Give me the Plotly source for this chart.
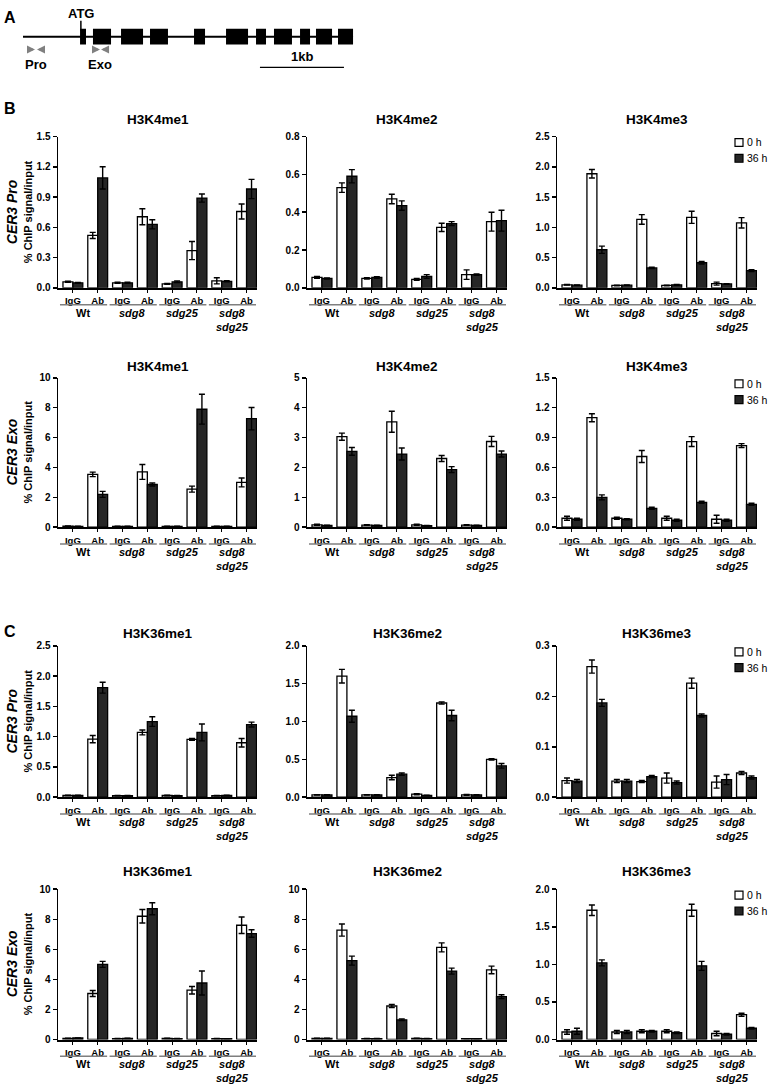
import plotly.graph_objects as go
from plotly.subplots import make_subplots

# ---------------- DATA ----------------
categories = ["IgG", "Ab", "IgG", "Ab", "IgG", "Ab", "IgG", "Ab"]
genotypes = ["Wt", "<i>sdg8</i>", "<i>sdg25</i>", "<i>sdg8</i><br><i>sdg25</i>"]
series_names = ["0 h", "36 h"]

# order: Wt IgG, Wt Ab, sdg8 IgG, sdg8 Ab, sdg25 IgG, sdg25 Ab, sdg8sdg25 IgG, sdg8sdg25 Ab
k4me1_pro_0h = [0.06, 0.52, 0.05, 0.705, 0.04, 0.37, 0.07, 0.757]
k4me1_pro_0h_err = [0.005, 0.03, 0.005, 0.08, 0.005, 0.09, 0.03, 0.075]
k4me1_pro_36h = [0.05, 1.09, 0.05, 0.63, 0.06, 0.89, 0.065, 0.98]
k4me1_pro_36h_err = [0.003, 0.11, 0.005, 0.045, 0.008, 0.04, 0.005, 0.095]

k4me2_pro_0h = [0.055, 0.53, 0.05, 0.47, 0.045, 0.32, 0.07, 0.35]
k4me2_pro_0h_err = [0.005, 0.025, 0.004, 0.025, 0.005, 0.022, 0.025, 0.05]
k4me2_pro_36h = [0.05, 0.59, 0.055, 0.435, 0.06, 0.34, 0.07, 0.355]
k4me2_pro_36h_err = [0.003, 0.035, 0.004, 0.025, 0.01, 0.01, 0.004, 0.055]

k4me3_pro_0h = [0.05, 1.885, 0.04, 1.13, 0.04, 1.165, 0.07, 1.075]
k4me3_pro_0h_err = [0.005, 0.07, 0.005, 0.08, 0.005, 0.1, 0.025, 0.085]
k4me3_pro_36h = [0.045, 0.63, 0.045, 0.33, 0.05, 0.415, 0.065, 0.285]
k4me3_pro_36h_err = [0.004, 0.06, 0.004, 0.01, 0.008, 0.02, 0.005, 0.015]

k4me1_exo_0h = [0.07, 3.54, 0.05, 3.7, 0.05, 2.55, 0.05, 3.0]
k4me1_exo_0h_err = [0.01, 0.15, 0.01, 0.5, 0.01, 0.2, 0.01, 0.3]
k4me1_exo_36h = [0.06, 2.2, 0.05, 2.86, 0.05, 7.9, 0.05, 7.27]
k4me1_exo_36h_err = [0.01, 0.2, 0.01, 0.1, 0.01, 1.0, 0.01, 0.75]

k4me2_exo_0h = [0.08, 3.03, 0.07, 3.53, 0.08, 2.3, 0.07, 2.87]
k4me2_exo_0h_err = [0.02, 0.12, 0.01, 0.35, 0.02, 0.1, 0.01, 0.17]
k4me2_exo_36h = [0.06, 2.54, 0.06, 2.45, 0.05, 1.93, 0.06, 2.45]
k4me2_exo_36h_err = [0.01, 0.13, 0.01, 0.2, 0.01, 0.1, 0.01, 0.1]

k4me3_exo_0h = [0.09, 1.10, 0.09, 0.71, 0.09, 0.86, 0.08, 0.82]
k4me3_exo_0h_err = [0.02, 0.04, 0.01, 0.06, 0.02, 0.05, 0.04, 0.02]
k4me3_exo_36h = [0.08, 0.30, 0.08, 0.19, 0.07, 0.25, 0.07, 0.23]
k4me3_exo_36h_err = [0.01, 0.025, 0.005, 0.01, 0.01, 0.01, 0.01, 0.01]

k36me1_pro_0h = [0.03, 0.96, 0.025, 1.07, 0.03, 0.955, 0.025, 0.9]
k36me1_pro_0h_err = [0.003, 0.06, 0.003, 0.04, 0.005, 0.015, 0.003, 0.07]
k36me1_pro_36h = [0.03, 1.81, 0.025, 1.25, 0.025, 1.07, 0.03, 1.2]
k36me1_pro_36h_err = [0.003, 0.09, 0.003, 0.08, 0.003, 0.14, 0.003, 0.04]

k36me2_pro_0h = [0.03, 1.6, 0.03, 0.26, 0.04, 1.245, 0.03, 0.5]
k36me2_pro_0h_err = [0.003, 0.09, 0.003, 0.03, 0.008, 0.015, 0.005, 0.01]
k36me2_pro_36h = [0.03, 1.07, 0.03, 0.305, 0.025, 1.08, 0.03, 0.415]
k36me2_pro_36h_err = [0.003, 0.08, 0.003, 0.015, 0.003, 0.07, 0.003, 0.03]

k36me3_pro_0h = [0.033, 0.259, 0.032, 0.031, 0.038, 0.226, 0.030, 0.048]
k36me3_pro_0h_err = [0.005, 0.013, 0.003, 0.002, 0.01, 0.01, 0.012, 0.003]
k36me3_pro_36h = [0.032, 0.187, 0.032, 0.041, 0.029, 0.162, 0.035, 0.039]
k36me3_pro_36h_err = [0.003, 0.007, 0.003, 0.002, 0.003, 0.003, 0.01, 0.003]

k36me1_exo_0h = [0.08, 3.06, 0.06, 8.2, 0.08, 3.28, 0.06, 7.6]
k36me1_exo_0h_err = [0.01, 0.2, 0.01, 0.45, 0.01, 0.25, 0.01, 0.55]
k36me1_exo_36h = [0.1, 5.0, 0.07, 8.7, 0.06, 3.76, 0.05, 7.05]
k36me1_exo_36h_err = [0.01, 0.2, 0.01, 0.4, 0.01, 0.8, 0.01, 0.25]

k36me2_exo_0h = [0.07, 7.28, 0.06, 2.23, 0.08, 6.13, 0.05, 4.63]
k36me2_exo_0h_err = [0.01, 0.4, 0.01, 0.1, 0.01, 0.3, 0.01, 0.25]
k36me2_exo_36h = [0.08, 5.25, 0.06, 1.31, 0.06, 4.55, 0.05, 2.85]
k36me2_exo_36h_err = [0.01, 0.3, 0.01, 0.05, 0.01, 0.2, 0.01, 0.13]

k36me3_exo_0h = [0.10, 1.72, 0.10, 0.11, 0.11, 1.72, 0.08, 0.33]
k36me3_exo_0h_err = [0.03, 0.07, 0.02, 0.02, 0.02, 0.08, 0.03, 0.02]
k36me3_exo_36h = [0.11, 1.02, 0.10, 0.11, 0.09, 0.98, 0.07, 0.15]
k36me3_exo_36h_err = [0.04, 0.04, 0.02, 0.01, 0.01, 0.06, 0.01, 0.01]

# panel titles / y-axis settings
titles = [["H3K4me1", "H3K4me2", "H3K4me3"],
          ["H3K4me1", "H3K4me2", "H3K4me3"],
          ["H3K36me1", "H3K36me2", "H3K36me3"],
          ["H3K36me1", "H3K36me2", "H3K36me3"]]
row_labels = ["CER3 Pro", "CER3 Exo", "CER3 Pro", "CER3 Exo"]
y_max = [[1.5, 0.8, 2.5], [10, 5, 1.5], [2.5, 2.0, 0.3], [10, 10, 2.0]]
y_step = [[0.3, 0.2, 0.5], [2, 1, 0.3], [0.5, 0.5, 0.1], [2, 2, 0.5]]
y_fmt = [[".1f", ".1f", ".1f"], ["d", "d", ".1f"], [".1f", ".1f", ".1f"], ["d", "d", ".1f"]]

panels = [
    [(k4me1_pro_0h, k4me1_pro_0h_err, k4me1_pro_36h, k4me1_pro_36h_err),
     (k4me2_pro_0h, k4me2_pro_0h_err, k4me2_pro_36h, k4me2_pro_36h_err),
     (k4me3_pro_0h, k4me3_pro_0h_err, k4me3_pro_36h, k4me3_pro_36h_err)],
    [(k4me1_exo_0h, k4me1_exo_0h_err, k4me1_exo_36h, k4me1_exo_36h_err),
     (k4me2_exo_0h, k4me2_exo_0h_err, k4me2_exo_36h, k4me2_exo_36h_err),
     (k4me3_exo_0h, k4me3_exo_0h_err, k4me3_exo_36h, k4me3_exo_36h_err)],
    [(k36me1_pro_0h, k36me1_pro_0h_err, k36me1_pro_36h, k36me1_pro_36h_err),
     (k36me2_pro_0h, k36me2_pro_0h_err, k36me2_pro_36h, k36me2_pro_36h_err),
     (k36me3_pro_0h, k36me3_pro_0h_err, k36me3_pro_36h, k36me3_pro_36h_err)],
    [(k36me1_exo_0h, k36me1_exo_0h_err, k36me1_exo_36h, k36me1_exo_36h_err),
     (k36me2_exo_0h, k36me2_exo_0h_err, k36me2_exo_36h, k36me2_exo_36h_err),
     (k36me3_exo_0h, k36me3_exo_0h_err, k36me3_exo_36h, k36me3_exo_36h_err)],
]

# gene model (bp, relative to start of drawn region)
exon_starts = [679, 833, 1167, 1512, 2036, 2417, 2774, 2988, 3298, 3488, 3750]
exon_ends = [750, 1048, 1429, 1726, 2167, 2679, 2893, 3202, 3417, 3679, 3929]
gene_start, gene_end = 0, 3929
atg_pos = 679
pro_primers = [(60, 143), (238, 167)]
exo_primers = [(845, 917), (1000, 929)]
scale_bar = (2821, 3821)

# ---------------- LAYOUT HELPERS ----------------
W, H = 770, 1092
FONT = "Liberation Sans, Arial, sans-serif"
col_px = [(58, 257), (307, 507), (557, 757)]
row_px = [(132, 285), (376, 527), (647, 800), (893, 1045)]
title_px = [115, 365, 634, 875]


def fx(px):
    return px / W


def fy(px):
    return 1 - px / H


fig = make_subplots(rows=4, cols=3)
fills = ["white", "#262626"]
xpos = list(range(len(categories)))

for r in range(4):
    for c in range(3):
        v0, e0, v1, e1 = panels[r][c]
        for s, (vals, errs) in enumerate([(v0, e0), (v1, e1)]):
            fig.add_trace(go.Bar(
                x=xpos, y=vals, name=series_names[s], showlegend=False,
                marker=dict(color=fills[s], line=dict(color="black", width=1.3)),
                error_y=dict(type="data", array=errs, visible=True, color="black",
                             thickness=1.4, width=3),
                offsetgroup=str(s)), row=r + 1, col=c + 1)
        fig.update_xaxes(domain=[fx(col_px[c][0]), fx(col_px[c][1])],
                         range=[-0.6, 7.42], tickvals=xpos, ticktext=categories,
                         showline=True, linecolor="black", linewidth=2,
                         ticks="outside", ticklen=3, tickcolor="black", tickwidth=1,
                         showgrid=False, zeroline=False, fixedrange=True,
                         tickfont=dict(family=FONT, size=9.5, color="black", weight="bold"),
                         row=r + 1, col=c + 1)
        fig.update_yaxes(domain=[fy(row_px[r][1]), fy(row_px[r][0])],
                         range=[0, y_max[r][c]], dtick=y_step[r][c], tick0=0,
                         tickformat=y_fmt[r][c],
                         showline=True, linecolor="black", linewidth=1.5,
                         ticks="outside", ticklen=4, tickcolor="black", tickwidth=1.5,
                         showgrid=False, zeroline=False, fixedrange=True,
                         tickfont=dict(family=FONT, size=10, color="black", weight="bold"),
                         row=r + 1, col=c + 1)

annotations = []
shapes = []

# panel titles, group labels, underlines
for r in range(4):
    for c in range(3):
        x0, x1 = col_px[c]
        annotations.append(dict(text="<b>%s</b>" % titles[r][c], x=fx((x0 + x1) / 2), y=fy(title_px[r]),
                                xref="paper", yref="paper", xanchor="center", yanchor="middle",
                                showarrow=False, font=dict(family=FONT, size=13.5, color="black")))
        axn = "" if (r * 3 + c) == 0 else str(r * 3 + c + 1)
        ybase = row_px[r][1]
        for g, gname in enumerate(genotypes):
            shapes.append(dict(type="line", xref="x" + axn, yref="paper",
                               x0=2 * g - 0.52, x1=2 * g + 1.38,
                               y0=fy(ybase + 17), y1=fy(ybase + 17),
                               line=dict(color="#7f7f7f", width=1.5)))
            annotations.append(dict(text="<b>%s</b>" % gname, x=2 * g + 0.42, y=fy(ybase + 17),
                                    xref="x" + axn, yref="paper", xanchor="center", yanchor="top",
                                    showarrow=False, font=dict(family=FONT, size=11, color="black")))
    # legend on right-most column
    top = row_px[r][0]
    for s, off in enumerate([2, 18]):
        shapes.append(dict(type="rect", xref="paper", yref="paper",
                           x0=fx(735), x1=fx(743), y0=fy(top + off), y1=fy(top + off + 8),
                           fillcolor=fills[s], line=dict(color="black", width=1.2)))
        annotations.append(dict(text=series_names[s], x=fx(745), y=fy(top + off + 4),
                                xref="paper", yref="paper", xanchor="left", yanchor="middle",
                                showarrow=False, font=dict(family=FONT, size=10.5, color="black")))
    # row labels (first column)
    yc = fy((row_px[r][0] + row_px[r][1]) / 2)
    annotations.append(dict(text="<b><i>%s</i></b>" % row_labels[r], x=fx(12), y=yc,
                            xref="paper", yref="paper", xanchor="center", yanchor="middle",
                            textangle=-90, showarrow=False,
                            font=dict(family=FONT, size=14, color="black")))
    annotations.append(dict(text="<b>% ChIP signal/input</b>", x=fx(28), y=yc,
                            xref="paper", yref="paper", xanchor="center", yanchor="middle",
                            textangle=-90, showarrow=False,
                            font=dict(family=FONT, size=11, color="black")))

# panel letters
for letter, ypx in [("A", 12), ("B", 104), ("C", 632)]:
    annotations.append(dict(text="<b>%s</b>" % letter, x=fx(2), y=fy(ypx), xref="paper", yref="paper",
                            xanchor="left", yanchor="middle", showarrow=False,
                            font=dict(family=FONT, size=16, color="black")))

# ---------------- GENE DIAGRAM (panel A) ----------------
px_per_bp = 0.084
gx0 = 23
fig.add_trace(go.Scatter(x=[gene_start, gene_end], y=[31, 31], mode="lines",
                         line=dict(color="black", width=2), xaxis="x13", yaxis="y13",
                         showlegend=False, hoverinfo="skip"))
fig.update_layout(
    xaxis13=dict(domain=[0, 1], range=[-gx0 / px_per_bp, (W - gx0) / px_per_bp], visible=False,
                 anchor="y13", fixedrange=True),
    yaxis13=dict(domain=[fy(75), 1], range=[75, 0], visible=False, anchor="x13", fixedrange=True),
)
for s0, s1 in zip(exon_starts, exon_ends):
    shapes.append(dict(type="rect", xref="x13", yref="y13", x0=s0, x1=s1, y0=23, y1=39,
                       fillcolor="black", line=dict(width=0)))
shapes.append(dict(type="line", xref="x13", yref="y13", x0=atg_pos + 10, x1=atg_pos + 10, y0=15, y1=25,
                   line=dict(color="black", width=1.5)))
annotations.append(dict(text="<b>ATG</b>", x=atg_pos + 10, y=8, xref="x13", yref="y13", showarrow=False,
                        xanchor="center", yanchor="middle",
                        font=dict(family=FONT, size=13, color="black")))
shapes.append(dict(type="line", xref="x13", yref="y13", x0=scale_bar[0], x1=scale_bar[1], y0=62, y1=62,
                   line=dict(color="black", width=1.3)))
annotations.append(dict(text="<b>1kb</b>", x=(scale_bar[0] + scale_bar[1]) / 2, y=51, xref="x13", yref="y13",
                        xanchor="center", yanchor="middle",
                        showarrow=False, font=dict(family=FONT, size=13, color="black")))
for primers, label in [(pro_primers, "Pro"), (exo_primers, "Exo")]:
    for tail, tip in primers:
        annotations.append(dict(text="", x=tip, y=44, ax=tail, ay=44, xref="x13", yref="y13",
                                axref="x13", ayref="y13", showarrow=True, arrowhead=2, arrowsize=0.8,
                                arrowwidth=2, arrowcolor="#808080"))
    cx = (primers[0][0] + primers[1][0]) / 2
    annotations.append(dict(text="<b>%s</b>" % label, x=cx, y=59, xref="x13", yref="y13", showarrow=False,
                            xanchor="center", yanchor="middle",
                            font=dict(family=FONT, size=13, color="black")))

fig.update_layout(
    width=W, height=H, autosize=False,
    margin=dict(l=0, r=0, t=0, b=0),
    paper_bgcolor="white", plot_bgcolor="white",
    barmode="group", bargap=0.2, bargroupgap=0,
    annotations=annotations, shapes=shapes,
    showlegend=False,
    font=dict(family=FONT, color="black"),
)

fig.write_html("out.html",
               config={"displayModeBar": False, "staticPlot": True},
               post_script="document.body.style.margin='0';document.body.style.padding='0';"
                           "document.documentElement.style.overflow='hidden';")
